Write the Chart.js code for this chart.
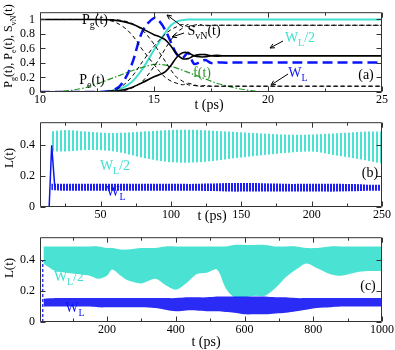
<!DOCTYPE html>
<html>
<head>
<meta charset="utf-8">
<script src="https://cdn.jsdelivr.net/npm/chart.js@4.4.1/dist/chart.umd.min.js"></script>
<style>
  html, body { margin: 0; padding: 0; background: #fff; }
  #wrap { position: relative; width: 395px; height: 350px; }
  canvas { position: absolute; left: 0; }
</style>
</head>
<body>
<div id="wrap">
  <canvas id="chartA" width="395" height="116" style="top:0"></canvas>
  <canvas id="chartB" width="395" height="115" style="top:110px"></canvas>
  <canvas id="chartC" width="395" height="125" style="top:225px"></canvas>
</div>
<script>
// --- PANEL (a): populations, entropy, pulse ---
const tA   = [10, 11, 12, 12.5, 13, 13.5, 14, 14.5, 15, 15.25, 15.5, 15.75, 16, 16.25, 16.5, 16.75, 17, 17.25, 17.5, 17.75, 18, 18.5, 19, 19.5, 20, 22, 25];
const pgA  = [1, 1, 1, 1, 0.995, 0.98, 0.94, 0.87, 0.79, 0.76, 0.72, 0.63, 0.52, 0.46, 0.46, 0.5, 0.515, 0.515, 0.5, 0.495, 0.5, 0.5, 0.5, 0.5, 0.5, 0.5, 0.5];
const peA  = [0, 0, 0, 0, 0.005, 0.02, 0.06, 0.13, 0.21, 0.24, 0.28, 0.37, 0.48, 0.54, 0.54, 0.5, 0.485, 0.485, 0.5, 0.505, 0.5, 0.5, 0.5, 0.5, 0.5, 0.5, 0.5];
const wlA  = [0, 0, 0, 0, 0.01, 0.04, 0.13, 0.32, 0.58, 0.7, 0.82, 0.92, 0.97, 0.99, 1, 1, 1, 1, 1, 1, 1, 1, 1, 1, 1, 1, 1];
const svnA = [0, 0, 0, 0, 0.01, 0.08, 0.36, 0.84, 1.02, 0.97, 0.85, 0.68, 0.52, 0.47, 0.54, 0.39, 0.41, 0.44, 0.4, 0.41, 0.405, 0.405, 0.405, 0.405, 0.405, 0.405, 0.405];
const fA   = [0, 0.01, 0.06, 0.11, 0.17, 0.23, 0.29, 0.34, 0.38, 0.38, 0.37, 0.35, 0.33, 0.3, 0.27, 0.24, 0.21, 0.18, 0.15, 0.12, 0.1, 0.06, 0.03, 0.01, 0, 0, 0];
const d1A  = [1, 1, 1, 1, 0.99, 0.93, 0.8, 0.58, 0.38, 0.28, 0.2, 0.15, 0.12, 0.1, 0.12, 0.1, 0.08, 0.09, 0.08, 0.08, 0.08, 0.08, 0.08, 0.08, 0.08, 0.08, 0.08];
const d2A  = [1, 1, 1, 1, 1, 0.99, 0.95, 0.85, 0.66, 0.54, 0.42, 0.3, 0.2, 0.15, 0.1, 0.09, 0.08, 0.08, 0.08, 0.08, 0.08, 0.08, 0.08, 0.08, 0.08, 0.08, 0.08];
const u1A  = [0, 0, 0, 0, 0.01, 0.06, 0.2, 0.42, 0.63, 0.72, 0.8, 0.86, 0.9, 0.93, 0.9, 0.92, 0.93, 0.91, 0.92, 0.92, 0.92, 0.92, 0.92, 0.92, 0.92, 0.92, 0.92];
const u2A  = [0, 0, 0, 0, 0, 0.01, 0.05, 0.15, 0.35, 0.47, 0.6, 0.72, 0.82, 0.88, 0.93, 0.9, 0.92, 0.92, 0.92, 0.92, 0.92, 0.92, 0.92, 0.92, 0.92, 0.92, 0.92];
const xTicksA = [10, 15, 20, 25];
const yTicksA = [0, 0.2, 0.4, 0.6, 0.8, 1];

// --- PANEL (b): envelopes up to 250 ps ---
const tB      = [15, 25, 40, 60, 80, 100, 120, 140, 160, 180, 200, 220, 240, 250];
const cyanUpB = [0.49, 0.5, 0.49, 0.48, 0.49, 0.5, 0.5, 0.49, 0.48, 0.47, 0.47, 0.48, 0.49, 0.49];
const cyanLoB = [0.36, 0.36, 0.37, 0.36, 0.32, 0.29, 0.29, 0.31, 0.33, 0.35, 0.36, 0.33, 0.3, 0.28];
const blueUpB = [0.15, 0.15, 0.15, 0.15, 0.15, 0.15, 0.15, 0.155, 0.155, 0.15, 0.15, 0.15, 0.145, 0.145];
const blueLoB = [0.11, 0.105, 0.105, 0.105, 0.105, 0.105, 0.105, 0.1, 0.1, 0.1, 0.1, 0.1, 0.105, 0.105];
const spikeBT = [12, 13.5, 15.3, 17.5];
const spikeBY = [0, 0, 0.4, 0.13];
const xTicksB = [50, 100, 150, 200, 250];
const yTicks  = [0, 0.2, 0.4];

// --- PANEL (c): envelopes up to 1000 ps ---
const tC      = [15, 50, 80, 120, 150, 175, 200, 215, 240, 260, 300, 340, 370, 400, 430, 460, 490, 520, 545, 570, 600, 630, 660, 690, 720, 750, 780, 810, 850, 880, 920, 960, 1000];
const cyanUpC = [0.49, 0.49, 0.49, 0.49, 0.49, 0.49, 0.48, 0.48, 0.47, 0.47, 0.48, 0.48, 0.49, 0.49, 0.49, 0.49, 0.49, 0.49, 0.49, 0.5, 0.5, 0.5, 0.5, 0.49, 0.49, 0.49, 0.48, 0.48, 0.49, 0.49, 0.49, 0.49, 0.49];
const cyanLoC = [0.38, 0.33, 0.32, 0.31, 0.3, 0.28, 0.3, 0.34, 0.3, 0.27, 0.25, 0.28, 0.24, 0.21, 0.25, 0.31, 0.32, 0.34, 0.22, 0.16, 0.16, 0.17, 0.17, 0.22, 0.29, 0.34, 0.38, 0.35, 0.31, 0.3, 0.32, 0.33, 0.33];
const blueUpC = [0.15, 0.155, 0.155, 0.155, 0.155, 0.155, 0.155, 0.155, 0.155, 0.155, 0.155, 0.155, 0.155, 0.155, 0.16, 0.16, 0.16, 0.165, 0.165, 0.165, 0.165, 0.165, 0.165, 0.16, 0.16, 0.155, 0.155, 0.155, 0.155, 0.155, 0.155, 0.155, 0.155];
const blueLoC = [0.1, 0.1, 0.1, 0.1, 0.1, 0.095, 0.095, 0.095, 0.095, 0.095, 0.095, 0.09, 0.08, 0.07, 0.075, 0.075, 0.07, 0.07, 0.065, 0.06, 0.05, 0.05, 0.05, 0.055, 0.06, 0.07, 0.08, 0.09, 0.095, 0.1, 0.1, 0.1, 0.1];
const dashCT  = [13, 13];
const dashCY  = [0, 0.4];
const xTicksC = [200, 400, 600, 800, 1000];

const TURQ = 'rgb(64,224,208)';
const BLUE = 'rgb(10,20,250)';
const GREEN = 'rgb(40,150,40)';
const SERIF = '"Liberation Serif", "DejaVu Serif", serif';

const pts = (xs, ys) => xs.map((x, i) => ({ x: x, y: ys[i] }));

// --- TEXT WITH SUBSCRIPTS: "W_{L}/2" ---
function drawRich(ctx, str, x, y, size, color) {
  const parts = [];
  const re = /_\{([^}]*)\}/g;
  let last = 0, m;
  while ((m = re.exec(str))) {
    if (m.index > last) parts.push([str.slice(last, m.index), false]);
    parts.push([m[1], true]);
    last = re.lastIndex;
  }
  if (last < str.length) parts.push([str.slice(last), false]);
  const sub = Math.round(size * 0.68);
  let w = 0;
  parts.forEach(([t, s]) => { ctx.font = (s ? sub : size) + 'px ' + SERIF; w += ctx.measureText(t).width; });
  let cx = x - w / 2;
  ctx.fillStyle = color;
  ctx.textAlign = 'left';
  ctx.textBaseline = 'alphabetic';
  parts.forEach(([t, s]) => {
    ctx.font = (s ? sub : size) + 'px ' + SERIF;
    ctx.fillText(t, cx, s ? y + size * 0.3 : y);
    cx += ctx.measureText(t).width;
  });
}

function drawArrow(ctx, x1, y1, x2, y2) {
  const ang = Math.atan2(y2 - y1, x2 - x1);
  ctx.beginPath();
  ctx.moveTo(x1, y1);
  ctx.lineTo(x2, y2);
  ctx.moveTo(x2, y2);
  ctx.lineTo(x2 - 5 * Math.cos(ang - 0.45), y2 - 5 * Math.sin(ang - 0.45));
  ctx.moveTo(x2, y2);
  ctx.lineTo(x2 - 5 * Math.cos(ang + 0.45), y2 - 5 * Math.sin(ang + 0.45));
  ctx.stroke();
}

// frame, inward ticks, labels and arrows
const decor = {
  id: 'decor',
  afterDraw(chart, args, o) {
    const { ctx, chartArea: a } = chart;
    const x = chart.scales.x, y = chart.scales.y;
    const L = a.left + 0.5, R = a.right - 0.5, T = a.top + 0.5, B = a.bottom - 0.5;
    ctx.save();
    ctx.strokeStyle = '#333';
    ctx.lineWidth = 1;
    ctx.beginPath();
    ctx.rect(L, T, R - L, B - T);
    const xTick = (v, len) => {
      const p = Math.round(x.getPixelForValue(v)) + 0.5;
      ctx.moveTo(p, B); ctx.lineTo(p, B - len);
      ctx.moveTo(p, T); ctx.lineTo(p, T + len);
    };
    const yTick = (v, len) => {
      const p = Math.round(y.getPixelForValue(v)) + 0.5;
      ctx.moveTo(L, p); ctx.lineTo(L + len, p);
      ctx.moveTo(R, p); ctx.lineTo(R - len, p);
    };
    x.ticks.forEach(t => xTick(t.value, 5));
    (o.minorX || []).forEach(v => xTick(v, 3));
    y.ticks.forEach(t => yTick(t.value, 5));
    ctx.stroke();

    ctx.strokeStyle = '#000';
    (o.arrows || []).forEach(ar => drawArrow(ctx, ar[0], ar[1], ar[2], ar[3]));
    (o.notes || []).forEach(n => drawRich(ctx, n.text, n.x, n.y, n.size || 14, n.color || '#000'));
    if (o.yTitle) {
      ctx.save();
      ctx.translate(o.yTitle.x, o.yTitle.y);
      ctx.rotate(-Math.PI / 2);
      drawRich(ctx, o.yTitle.text, 0, 0, o.yTitle.size, '#000');
      ctx.restore();
    }
    ctx.restore();
  }
};

function stripes(color, period, on) {
  const c = document.createElement('canvas');
  c.width = period; c.height = 2;
  const g = c.getContext('2d');
  g.fillStyle = color;
  g.fillRect(0, 0, on, 2);
  return g.createPattern(c, 'repeat');
}

function makeOptions(cfg) {
  const tickFont = { family: SERIF, size: 12 };
  return {
    responsive: false,
    animation: false,
    devicePixelRatio: 1,
    layout: { padding: { left: 0, right: 13, top: cfg.top, bottom: cfg.bottom || 0 } },
    elements: { point: { radius: 0 } },
    plugins: { legend: { display: false }, tooltip: { enabled: false }, decor: cfg.decor },
    scales: {
      x: {
        type: 'linear', min: cfg.xMin, max: cfg.xMax,
        grid: { display: false, drawTicks: false }, border: { display: false },
        ticks: { color: '#000', font: tickFont, padding: 1, maxRotation: 0, autoSkip: false, callback: v => String(v) },
        afterBuildTicks: s => { s.ticks = cfg.xTicks.map(v => ({ value: v })); },
        afterFit: s => { s.height = cfg.xH; }
      },
      y: {
        type: 'linear', min: cfg.yMin, max: cfg.yMax,
        grid: { display: false, drawTicks: false }, border: { display: false },
        ticks: { color: '#000', font: tickFont, padding: 5, autoSkip: false, callback: v => String(v) },
        afterBuildTicks: s => { s.ticks = cfg.yTicks.map(v => ({ value: v })); },
        afterFit: s => { s.width = 40; }
      }
    }
  };
}

const line = (data, color, width, dash, tension) => ({
  data: data, borderColor: color, borderWidth: width, borderDash: dash || [],
  fill: false, pointRadius: 0, tension: tension === undefined ? 0.35 : tension
});

// --- (a) ---
new Chart(document.getElementById('chartA'), {
  type: 'line',
  data: {
    datasets: [
      line(pts(tA, pgA), '#000', 1.6),
      line(pts(tA, peA), '#000', 1.6),
      line(pts(tA, d1A), '#000', 1, [4, 3]),
      line(pts(tA, d2A), '#000', 1, [4, 3]),
      line(pts(tA, u1A), '#000', 1, [4, 3]),
      line(pts(tA, u2A), '#000', 1, [4, 3]),
      line(pts(tA, fA), GREEN, 1.2, [6, 2, 1.5, 2]),
      line(pts(tA, svnA), BLUE, 2.5, [10, 5]),
      line(pts(tA, wlA), TURQ, 2)
    ]
  },
  options: makeOptions({
    top: 2, bottom: 6, xH: 18, xMin: 10, xMax: 25, yMin: 0, yMax: 1.1, xTicks: xTicksA, yTicks: yTicksA,
    decor: {
      minorX: [12.5, 17.5, 22.5],
      arrows: [[183, 27, 167, 15], [184, 33, 172, 37], [283, 41, 270, 48], [288, 74, 271, 85]],
      notes: [
        { text: 'P_{g}(t)', x: 95, y: 24 },
        { text: 'P_{e}(t)', x: 92, y: 84 },
        { text: 'S_{vN}(t)', x: 204, y: 35 },
        { text: 'W_{L}/2', x: 300, y: 42, color: TURQ },
        { text: 'W_{L}', x: 298, y: 77, color: BLUE },
        { text: 'f(t)', x: 202, y: 77, color: GREEN },
        { text: '(a)', x: 366, y: 79 },
        { text: 't (ps)', x: 209, y: 109 }
      ],
      yTitle: { text: 'P_{g}(t), P_{e}(t), S_{vN}(t)', x: 12, y: 46, size: 12 }
    }
  }),
  plugins: [decor]
});

// --- (b) ---
new Chart(document.getElementById('chartB'), {
  type: 'line',
  data: {
    datasets: [
      line(pts(spikeBT, spikeBY), BLUE, 1.5, [], 0),
      Object.assign(line(pts(tB, blueUpB), BLUE, 0, [], 0.3), { fill: '+1', backgroundColor: stripes('rgba(20,20,245,0.95)', 3, 2) }),
      line(pts(tB, blueLoB), BLUE, 0, [], 0.3),
      Object.assign(line(pts(tB, cyanUpB), TURQ, 0, [], 0.3), { fill: '+1', backgroundColor: stripes('rgba(64,224,208,0.95)', 4, 2) }),
      line(pts(tB, cyanLoB), TURQ, 0, [], 0.3)
    ]
  },
  options: makeOptions({
    top: 4, xH: 18, xMin: 7, xMax: 250, yMin: 0, yMax: 0.55, xTicks: xTicksB, yTicks: yTicks,
    decor: {
      minorX: [25, 75, 125, 175, 225],
      notes: [
        { text: 'W_{L}/2', x: 115, y: 60, color: TURQ },
        { text: 'W_{L}', x: 116, y: 86, color: BLUE },
        { text: '(b)', x: 370, y: 67 },
        { text: 't (ps)', x: 212, y: 110 }
      ],
      yTitle: { text: 'L(t)', x: 13, y: 48, size: 13 }
    }
  }),
  plugins: [decor]
});

// --- (c) ---
new Chart(document.getElementById('chartC'), {
  type: 'line',
  data: {
    datasets: [
      line(pts(dashCT, dashCY), BLUE, 1.2, [3, 2], 0),
      Object.assign(line(pts(tC, blueUpC), BLUE, 0, [], 0.3), { fill: '+1', backgroundColor: 'rgba(20,20,245,0.9)' }),
      line(pts(tC, blueLoC), BLUE, 0, [], 0.3),
      Object.assign(line(pts(tC, cyanUpC), TURQ, 0, [], 0.3), { fill: '+1', backgroundColor: 'rgba(64,224,208,0.95)' }),
      line(pts(tC, cyanLoC), TURQ, 0, [], 0.3)
    ]
  },
  options: makeOptions({
    top: 4, xH: 28, xMin: 5, xMax: 1000, yMin: 0, yMax: 0.55, xTicks: xTicksC, yTicks: yTicks,
    decor: {
      minorX: [100, 300, 500, 700, 900],
      notes: [
        { text: 'W_{L}/2', x: 69, y: 56, color: TURQ },
        { text: 'W_{L}', x: 75, y: 87, color: BLUE },
        { text: '(c)', x: 368, y: 65 },
        { text: 't (ps)', x: 206, y: 121 }
      ],
      yTitle: { text: 'L(t)', x: 13, y: 43, size: 13 }
    }
  }),
  plugins: [decor]
});
</script>
</body>
</html>
